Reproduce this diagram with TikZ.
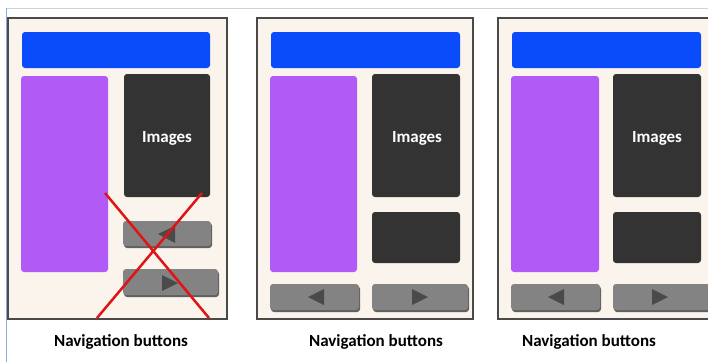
\documentclass[tikz,border=0pt]{standalone}
\usepackage{fontspec}
\setmainfont{Carlito}
\definecolor{framefill}{HTML}{FAF4EC}
\definecolor{framedraw}{HTML}{4A4A4A}
\definecolor{barblue}{HTML}{0A4CFA}
\definecolor{sidepurple}{HTML}{B25AF6}
\definecolor{darkbox}{HTML}{333333}
\definecolor{btngray}{HTML}{838383}
\definecolor{btnshade}{HTML}{606060}
\definecolor{arrowgray}{HTML}{4A4A4A}
\definecolor{crossred}{HTML}{E01414}
\definecolor{topline}{HTML}{D2D2D2}
\definecolor{leftline}{HTML}{8AAEDC}
\tikzset{
  frame/.style={fill=framefill, draw=framedraw, line width=1.2pt},
  bar/.style={fill=barblue, rounded corners=3pt},
  side/.style={fill=sidepurple, rounded corners=3pt},
  dark/.style={fill=darkbox, rounded corners=3pt},
  btnshadow/.style={fill=btnshade, rounded corners=3pt},
  btn/.style={fill=btngray, rounded corners=3pt},
  tri/.style={fill=arrowgray},
  imgtext/.style={text=white, font=\bfseries\fontsize{17}{19}\selectfont},
  caption/.style={text=black, font=\bfseries\fontsize{17}{19}\selectfont},
  cross/.style={draw=crossred, line width=2.5pt}
}
\begin{document}
\begin{tikzpicture}[x=1pt,y=-1pt]
\useasboundingbox (0,0) rectangle (708,362);
\clip (0,0) rectangle (708,362);
\fill[white] (0,0) rectangle (708,362);
\draw[topline, line width=1pt] (6,8) -- (708,8);
\draw[leftline, line width=1pt] (6,8) -- (6,362);

% ---------- Panel 1 ----------
\draw[frame] (8,18) rectangle (227,319);
\fill[bar] (22,32) rectangle (210,68);
\fill[side] (21,76) rectangle (108,272);
\fill[dark] (124,74) rectangle (210,197);
\node[imgtext] (img1) at (167,138) {Images};
\fill[btnshadow] (124,223) rectangle (212,248);
\fill[btn] (123,221) rectangle (211,246);
\fill[tri] (158,234) -- (175,226) -- (175,243) -- cycle;
\fill[btnshadow] (124,271) rectangle (219,297);
\fill[btn] (123,269) rectangle (218,295);
\fill[tri] (178,283) -- (162,275) -- (162,291) -- cycle;
\coordinate (x1a) at (105,193);
\coordinate (x1b) at (209,318);
\coordinate (x2a) at (202,193);
\coordinate (x2b) at (97,318);
\draw[cross] (x1a) -- (x1b);
\draw[cross] (x2a) -- (x2b);
\node[caption] (cap1) at (121,342) {Navigation buttons};

% ---------- Panel 2 ----------
\draw[frame] (257,18) rectangle (473,319);
\fill[bar] (271,32) rectangle (460,68);
\fill[side] (270,76) rectangle (357,272);
\fill[dark] (372,74) rectangle (460,197);
\node[imgtext] (img2) at (417,138) {Images};
\fill[dark] (372,212) rectangle (460,263);
\fill[btnshadow] (271,286) rectangle (360,312);
\fill[btn] (270,284) rectangle (359,310);
\fill[tri] (308,297) -- (324,289) -- (324,305) -- cycle;
\fill[btnshadow] (373,286) rectangle (469,312);
\fill[btn] (372,284) rectangle (468,310);
\fill[tri] (428,297) -- (412,289) -- (412,305) -- cycle;
\node[caption] (cap2) at (376,342) {Navigation buttons};

% ---------- Panel 3 ----------
\draw[frame] (498,18) rectangle (716,319);
\fill[bar] (512,32) rectangle (701,68);
\fill[side] (511,76) rectangle (599,272);
\fill[dark] (613,74) rectangle (701,197);
\node[imgtext] (img3) at (657,138) {Images};
\fill[dark] (613,212) rectangle (701,263);
\fill[btnshadow] (512,286) rectangle (601,312);
\fill[btn] (511,284) rectangle (600,310);
\fill[tri] (548,297) -- (564,289) -- (564,305) -- cycle;
\fill[btnshadow] (614,286) rectangle (712,312);
\fill[btn] (613,284) rectangle (711,310);
\fill[tri] (668,297) -- (652,289) -- (652,305) -- cycle;
\node[caption] (cap3) at (589,342) {Navigation buttons};
\end{tikzpicture}
\end{document}
